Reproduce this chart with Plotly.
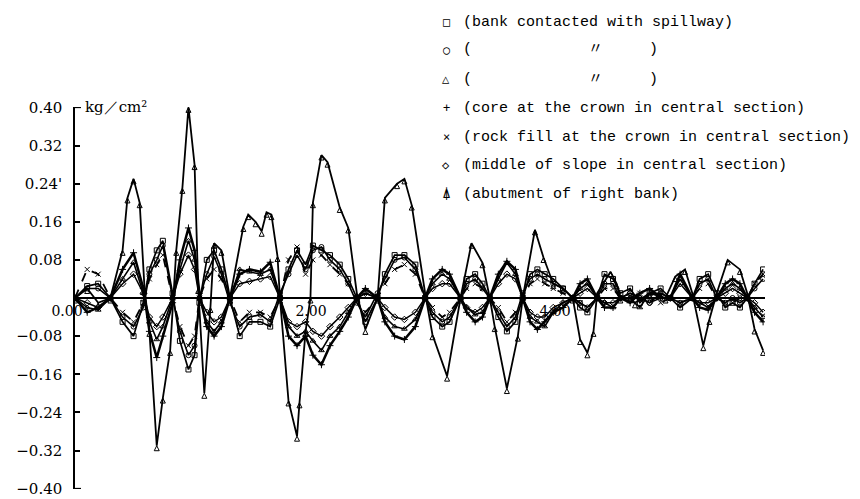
import plotly.graph_objects as go

# ---------------- data (time in s, pressure in kg/cm2) ----------------
time = [0.00, 0.10, 0.19, 0.29, 0.39, 0.48, 0.56, 0.61, 0.67, 0.72, 0.80,
        0.86, 0.93, 0.98, 1.02, 1.08, 1.14, 1.20, 1.27, 1.35, 1.43, 1.52,
        1.60, 1.68, 1.75, 1.82, 1.89, 1.95, 2.02, 2.09, 2.17, 2.24, 2.31,
        2.38, 2.48, 2.54, 2.62, 2.70, 2.79, 2.87, 2.93, 3.01, 3.07, 3.16,
        3.21, 3.28, 3.34, 3.40, 3.47, 3.54, 3.61, 3.67, 3.73, 3.79, 3.85,
        3.92, 4.00, 4.08, 4.14, 4.20, 4.28, 4.34, 4.41, 4.47, 4.55, 4.63,
        4.71, 4.80, 4.88, 4.96, 5.06, 5.12, 5.19, 5.26, 5.33, 5.39, 5.45,
        5.51, 5.57, 5.64]

bank_square = [0.00, 0.025, 0.03, 0.00, -0.05, -0.08, -0.01, 0.06, 0.10, 0.12, 0.01,
               -0.09, -0.15, -0.12, -0.01, 0.08, 0.10, 0.06, 0.00,
               -0.08, -0.05, -0.05, -0.06, 0.00,
               0.06, 0.10, 0.07, 0.11, 0.10, 0.09, 0.07, 0.04, 0.00,
               -0.05, 0.00, 0.05, 0.09, 0.09, 0.07, 0.00,
               -0.04, -0.06, -0.05, 0.00, 0.04, 0.05, 0.03, 0.00,
               -0.04, -0.07, -0.05, 0.00, 0.05, 0.06, 0.05, 0.04, 0.02, 0.00,
               -0.02, -0.03, 0.00, 0.05, 0.04, 0.01,
               0.02, -0.01, 0.01, 0.02, 0.00, -0.02, 0.00,
               0.04, 0.05, 0.01, -0.02, -0.01, -0.02, 0.00, 0.03, 0.06]

bank_circle = [0.00, 0.02, 0.02, 0.00, -0.04, -0.06, -0.02, 0.05, 0.08, 0.11, 0.00,
               -0.07, -0.12, -0.10, 0.00, 0.05, 0.087, 0.05, -0.01,
               -0.06, -0.04, -0.035, -0.05, 0.01,
               0.05, 0.09, 0.06, 0.10, 0.107, 0.08, 0.06, 0.03, -0.01,
               -0.04, 0.01, 0.04, 0.08, 0.085, 0.06, 0.00,
               -0.03, -0.05, -0.04, 0.00, 0.03, 0.04, 0.02, 0.00,
               -0.03, -0.06, -0.04, 0.01, 0.04, 0.05, 0.04, 0.03, 0.02, 0.00,
               -0.01, -0.02, 0.00, 0.03, 0.03, 0.00,
               0.01, 0.00, -0.01, 0.01, 0.00, -0.01, 0.00,
               0.03, 0.04, 0.00, -0.01, 0.00, -0.01, 0.00, 0.02, 0.04]

bank_triangle = [0.00, -0.02, -0.025, 0.00, 0.04, 0.075, 0.01, -0.05, -0.087, -0.06, 0.00,
                 0.06, 0.12, 0.08, 0.00, -0.05, -0.07, -0.05, 0.00,
                 0.06, 0.055, 0.05, 0.06, 0.00,
                 -0.06, -0.08, -0.07, -0.09, -0.11, -0.08, -0.06, -0.03, 0.00,
                 0.01, 0.00, -0.04, -0.06, -0.065, -0.045, 0.00,
                 0.03, 0.05, 0.04, 0.00, -0.02, -0.035, -0.03, 0.00,
                 0.04, 0.074, 0.05, 0.00, -0.04, -0.05, -0.06, -0.03, -0.01, 0.00,
                 0.02, 0.03, 0.00, -0.01, -0.02, 0.00,
                 0.00, -0.02, 0.01, 0.01, 0.00, 0.04, 0.00,
                 -0.01, -0.02, 0.00, 0.02, 0.03, 0.02, 0.00, -0.02, -0.04]

core_crown = [0.00, -0.03, -0.02, 0.00, 0.06, 0.095, 0.02, -0.07, -0.125, -0.08, -0.01,
              0.08, 0.147, 0.10, 0.01, -0.06, -0.08, -0.06, 0.00,
              0.05, 0.06, 0.055, 0.075, 0.00,
              -0.08, -0.10, -0.08, -0.12, -0.14, -0.10, -0.07, -0.04, 0.00,
              0.02, 0.00, -0.05, -0.08, -0.087, -0.06, 0.00,
              0.04, 0.06, 0.05, 0.00, -0.03, -0.05, -0.04, 0.00,
              0.05, 0.077, 0.06, 0.00, -0.05, -0.066, -0.05, -0.03, -0.02, 0.00,
              0.03, 0.04, 0.00, -0.02, -0.02, 0.00,
              -0.01, 0.01, 0.02, 0.00, 0.00, 0.05, 0.00,
              -0.02, -0.025, 0.00, 0.03, 0.04, 0.03, 0.00, -0.03, -0.05]

rockfill_crown = [0.00, 0.06, 0.05, 0.00, -0.03, -0.05, -0.01, 0.04, 0.07, 0.09, 0.00,
                  -0.06, -0.10, -0.08, 0.00, 0.04, 0.06, 0.04, 0.00,
                  -0.05, -0.03, -0.03, -0.04, 0.00,
                  0.08, 0.107, 0.05, 0.08, 0.09, 0.07, 0.05, 0.03, 0.00,
                  -0.03, 0.00, 0.03, 0.06, 0.07, 0.05, 0.00,
                  -0.02, -0.04, -0.03, 0.00, 0.02, 0.03, 0.02, 0.00,
                  -0.02, -0.05, -0.03, 0.00, 0.03, 0.04, 0.03, 0.02, 0.01, 0.00,
                  -0.01, -0.02, 0.00, 0.02, 0.02, 0.00,
                  0.00, 0.01, 0.00, -0.01, 0.00, -0.01, 0.00,
                  0.02, 0.03, 0.00, -0.01, -0.01, 0.00, 0.00, 0.03, 0.05]

slope_middle = [0.00, -0.01, -0.02, 0.00, 0.03, 0.05, 0.01, -0.04, -0.06, -0.04, 0.00,
                0.05, 0.09, 0.06, 0.00, -0.03, -0.05, -0.04, 0.00,
                0.03, 0.035, 0.04, 0.045, 0.00,
                -0.05, -0.06, -0.05, -0.07, -0.08, -0.06, -0.04, -0.02, 0.00,
                0.01, 0.00, -0.02, -0.04, -0.045, -0.03, 0.00,
                0.02, 0.03, 0.03, 0.00, -0.02, -0.03, -0.02, 0.00,
                0.03, 0.05, 0.04, 0.00, -0.03, -0.04, -0.04, -0.02, -0.01, 0.00,
                0.01, 0.02, 0.00, -0.01, -0.01, 0.00,
                0.01, 0.00, -0.01, 0.00, 0.00, 0.03, 0.00,
                -0.01, -0.01, 0.00, 0.01, 0.02, 0.01, 0.00, -0.01, -0.03]

time_abut = [0.00, 0.10, 0.19, 0.29, 0.39, 0.43, 0.48, 0.53, 0.57, 0.61, 0.67, 0.72,
             0.78, 0.83, 0.88, 0.93, 0.98, 1.01, 1.06, 1.11, 1.14, 1.20, 1.27, 1.38,
             1.42, 1.48, 1.53, 1.57, 1.61, 1.66, 1.68, 1.75, 1.82, 1.84, 1.89, 1.93,
             1.95, 2.02, 2.07, 2.17, 2.24, 2.31, 2.38, 2.48, 2.54, 2.64, 2.70, 2.76,
             2.87, 2.93, 3.05, 3.16, 3.25, 3.34, 3.40, 3.44, 3.54, 3.63, 3.67, 3.77,
             3.84, 3.92, 4.00, 4.08, 4.14, 4.20, 4.25, 4.28, 4.39, 4.44, 4.47, 4.59,
             4.71, 4.84, 4.92, 5.00, 5.06, 5.15, 5.20, 5.26, 5.35, 5.45, 5.51, 5.57,
             5.64]
abutment_right = [0.00, 0.02, -0.01, 0.00, 0.10, 0.21, 0.25, 0.20, 0.02, -0.07, -0.31,
                  -0.21, -0.11, 0.10, 0.23, 0.40, 0.28, 0.02, -0.20, -0.02, 0.115, 0.10,
                  0.00, 0.15, 0.175, 0.16, 0.14, 0.18, 0.175, 0.087, 0.00, -0.216, -0.29,
                  -0.22, -0.07, 0.00, 0.20, 0.30, 0.285, 0.19, 0.147, 0.01, -0.066, 0.00,
                  0.21, 0.24, 0.25, 0.195, 0.01, -0.077, -0.164, 0.00, 0.115, 0.074,
                  0.00, -0.06, -0.19, -0.08, 0.00, 0.143, 0.085, 0.03, 0.02, 0.00,
                  -0.087, -0.115, -0.07, 0.01, 0.055, 0.03, 0.00, -0.01, 0.01, 0.00,
                  0.045, 0.06, 0.01, -0.10, -0.045, 0.01, 0.08, 0.06, 0.01, -0.065, -0.11]

y_ticks = [0.40, 0.32, 0.24, 0.16, 0.08, -0.08, -0.16, -0.24, -0.32, -0.40]
y_tick_text = ["0.40", "0.32", "0.24'", "0.16", "0.08", "−0.08", "−0.16", "−0.24", "−0.32", "−0.40"]
x_ticks = [0, 2, 4]
x_tick_text = ["0.00", "2.00", "4.00"]

legend_symbols = ["□", "○", "△", "+", "×", "◇", "⍋"]
legend_texts = ["(bank contacted with spillway)", None, None,
                "(core at the crown in central section)",
                "(rock fill at the crown in central section)",
                "(middle of slope in central section)",
                "(abutment of right bank)"]

# ---------------- figure ----------------
W, H = 860, 499
fig = go.Figure()

series = [
    (time, bank_square, "square-open", 1.7, "solid"),
    (time, bank_circle, "circle-open", 1.6, "solid"),
    (time, bank_triangle, "triangle-up-open", 1.6, "solid"),
    (time, core_crown, "cross-thin-open", 2.5, "solid"),
    (time, rockfill_crown, "x-thin-open", 1.8, "dash"),
    (time, slope_middle, "diamond-open", 1.5, "solid"),
    (time_abut, abutment_right, "arrow-up-open", 1.8, "solid"),
]
for xs, ys, sym, w, dash in series:
    fig.add_trace(go.Scatter(
        x=xs, y=ys, mode="lines+markers", showlegend=False,
        line=dict(color="black", width=w, dash=dash),
        marker=dict(symbol=sym, size=5, color="black", line=dict(width=1, color="black")),
    ))

x0px, x1px = 75, 765
ytop, ybot = 107, 489
xdom = [x0px / W, x1px / W]
ydom = [(H - ybot) / H, (H - ytop) / H]
zero_frac = ydom[0] + (ydom[1] - ydom[0]) * 0.5

serif = "DejaVu Serif"
fig.update_layout(
    width=W, height=H, margin=dict(l=0, r=0, t=0, b=0, autoexpand=False),
    paper_bgcolor="white", plot_bgcolor="white",
    xaxis=dict(domain=xdom, range=[0, (x1px - x0px) / 122.0], anchor="free", position=zero_frac,
               automargin=False,
               showline=True, linecolor="black", linewidth=2, showgrid=False, zeroline=False,
               tickvals=x_ticks, ticktext=x_tick_text, ticks="", ticklabelshift=-8,
               tickfont=dict(family=serif, size=14, color="black")),
    yaxis=dict(domain=ydom, range=[-0.4008, 0.4008], anchor="x", automargin=False,
               showline=True, linecolor="black", linewidth=1.5, showgrid=False, zeroline=False,
               tickvals=y_ticks, ticktext=y_tick_text, ticks="inside", ticklen=5,
               tickwidth=1.5, tickcolor="black", ticklabelstandoff=8,
               tickfont=dict(family=serif, size=15, color="black")),
)

# axis end caps
for yv in (0.40, -0.40):
    fig.add_shape(type="line", xref="paper", yref="y", x0=x0px / W, x1=(x0px + 6) / W,
                  y0=yv, y1=yv, line=dict(color="black", width=1.5))

fig.add_annotation(xref="paper", yref="paper", x=83 / W, y=(H - 107) / H, xanchor="left",
                   yanchor="middle", showarrow=False, text="kg／cm²",
                   font=dict(family=serif, size=15, color="black"))

mono = "Liberation Mono, DejaVu Sans Mono"
rows_y = [22, 50, 79, 108, 137, 165, 194]
sym_x, txt_x = 446, 461
for sym, txt, ry in zip(legend_symbols, legend_texts, rows_y):
    yf = (H - ry) / H
    fig.add_annotation(xref="paper", yref="paper", x=sym_x / W, y=yf, xanchor="center",
                       yanchor="middle", showarrow=False, text=sym,
                       font=dict(family="DejaVu Sans Mono, DejaVu Sans", size=12, color="black"))
    if txt is not None:
        fig.add_annotation(xref="paper", yref="paper", x=txt_x / W, y=yf, xanchor="left",
                           yanchor="middle", showarrow=False, text=txt,
                           font=dict(family=mono, size=15, color="black"))
    else:
        for t, xp, anc in (("(", txt_x, "left"), ("〃", 595, "center"), (")", 660, "right")):
            fig.add_annotation(xref="paper", yref="paper", x=xp / W, y=yf, xanchor=anc,
                               yanchor="middle", showarrow=False, text=t,
                               font=dict(family=mono + ", Noto Sans CJK JP", size=15, color="black"))

fig.write_html("out.html")
